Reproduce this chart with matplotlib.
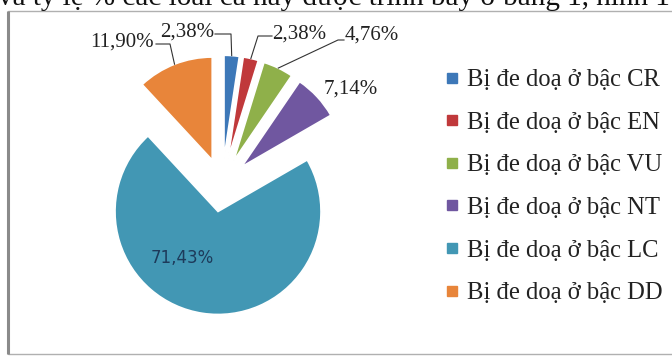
import numpy as np
import matplotlib
matplotlib.use("Agg")
import matplotlib.pyplot as plt
from matplotlib.patches import Rectangle
from matplotlib.lines import Line2D

# ---- data ----
categories = ["Bị đe doạ ở bậc CR", "Bị đe doạ ở bậc EN", "Bị đe doạ ở bậc VU",
              "Bị đe doạ ở bậc NT", "Bị đe doạ ở bậc LC", "Bị đe doạ ở bậc DD"]
values = [2.38, 2.38, 4.76, 7.14, 71.43, 11.90]
value_labels = ["2,38%", "2,38%", "4,76%", "7,14%", "71,43%", "11,90%"]
colors = ["#3d78b8", "#c0393b", "#8fb04a", "#7057a0", "#4297b4", "#e8853a"]
top_text = "và tỷ lệ % các loài cá này được trình bày ở bảng 1, hình 1"

W, H = 672, 358
fig = plt.figure(figsize=(W / 100, H / 100), dpi=100)
ax = fig.add_axes([0, 0, 1, 1])

SERIF = ["Liberation Serif", "DejaVu Serif"]

center = (222, H - 185)
radius = 103
expl_frac = 0.26
expl = expl_frac * radius
wedges, _ = ax.pie(values, colors=colors, startangle=90, counterclock=False,
                   center=center, radius=radius, explode=[expl] * len(values),
                   wedgeprops=dict(edgecolor="white", linewidth=1.2))
ax.set_xlim(0, W)
ax.set_ylim(0, H)
ax.set_aspect("equal")
ax.axis("off")

# frame of the chart area
ax.add_patch(Rectangle((8, 4), 720, H - 11 - 4, fill=False, edgecolor="#b0b0b0", lw=1.0))
ax.plot([8, 8], [4, H - 11], color="#8a8a8a", lw=2.2, solid_capstyle="butt")

# top (cut-off) document text
fig.text(-2 / W, 1 - 5 / H, top_text, family=SERIF, fontsize=21, va="baseline", ha="left", color="#111111")

# anchors on the wedge outer arcs
cum = np.cumsum([0] + values[:-1])
anchors = []
for v, c0 in zip(values, cum):
    th = np.deg2rad(90 - 360 * (c0 + v / 2) / 100)
    d = np.array([np.cos(th), np.sin(th)])
    anchors.append(np.array(center) + (expl + radius) * d)

# label positions (screen px, y down) and leader paths
label_pos = [(187, 32), (299, 34), (372, 35), (351, 89), (182, 258), (122, 42)]
leaders = {0: [(215, 34), (231, 34)], 1: [(272, 36), (258, 36)],
           2: [(344, 40), (338, 40)], 5: [(156, 44), (170, 44)]}

for i, (lab, (x, y)) in enumerate(zip(value_labels, label_pos)):
    if i == 4:
        ax.text(x, H - y, lab, family=["DejaVu Sans"], fontsize=12, color="#1d3a5a",
                ha="center", va="center")
    else:
        ax.text(x, H - y, lab, family=SERIF, fontsize=15, color="#222222",
                ha="center", va="center")
    if i in leaders:
        pts = [(px, H - py) for px, py in leaders[i]] + [tuple(anchors[i])]
        xs, ys = zip(*pts)
        ax.plot(xs, ys, color="#333333", lw=0.8)

handles = [Line2D([], [], marker="s", linestyle="none", markersize=6.5,
                  markerfacecolor=c, markeredgecolor=c) for c in colors]
leg = ax.legend(handles, categories, loc="upper left", bbox_to_anchor=(446, H - 69),
                bbox_transform=ax.transData, frameon=False,
                prop={"family": SERIF, "size": 17.7}, labelspacing=0.83,
                handlelength=0.5, handletextpad=0.35, borderpad=0, borderaxespad=0)
for t in leg.get_texts():
    t.set_color("#222222")

fig.savefig("out.png", dpi=100)
